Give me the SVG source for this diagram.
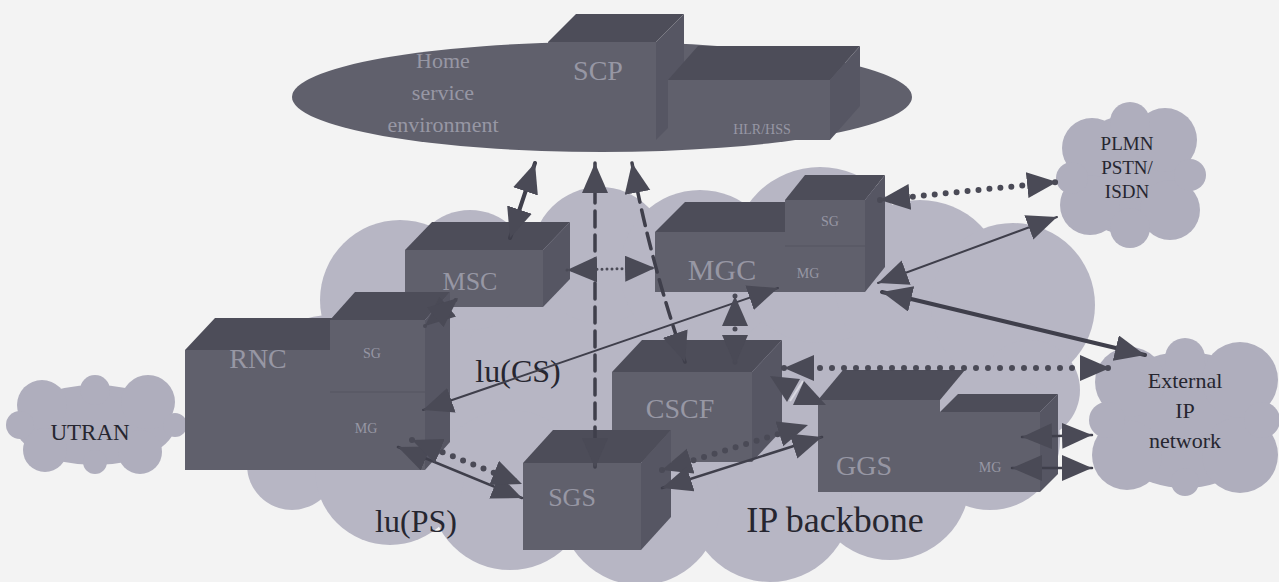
<svg xmlns="http://www.w3.org/2000/svg" width="1279" height="582" viewBox="0 0 1279 582">
<defs>
<style>
.cloud{fill:#b7b6c4}
.sc{fill:#afaebd}
.fr{fill:#60606c}
.tp{fill:#4d4d59}
.rt{fill:#565663}
.bl{font-family:"Liberation Serif",serif;fill:#9797a4;text-anchor:middle}
.dk{font-family:"Liberation Serif",serif;fill:#262630;text-anchor:middle}
.ln{fill:none;stroke:#3f3f4b;stroke-linecap:round}
.dot{fill:none;stroke:#4a4a56;stroke-linecap:round}
</style>
<marker id="ah" markerUnits="userSpaceOnUse" markerWidth="32" markerHeight="28" refX="30" refY="13" orient="auto-start-reverse" viewBox="0 0 32 28">
<path d="M0,0 L30,13 L0,26 Z" fill="#4a4a56"/>
</marker>
</defs>
<rect width="1279" height="582" fill="#f3f3f3"/>

<g id="ip-backbone">
<g class="cloud">
<ellipse cx="680" cy="380" rx="330" ry="150"/>
<circle cx="330" cy="400" r="85"/>
<circle cx="292" cy="465" r="45"/>
<circle cx="400" cy="300" r="80"/>
<circle cx="470" cy="270" r="60"/>
<circle cx="600" cy="255" r="68"/>
<circle cx="700" cy="270" r="80"/>
<circle cx="820" cy="255" r="88"/>
<circle cx="920" cy="285" r="85"/>
<circle cx="1013" cy="305" r="82"/>
<circle cx="1030" cy="390" r="50"/>
<circle cx="990" cy="440" r="70"/>
<circle cx="890" cy="480" r="80"/>
<circle cx="770" cy="500" r="82"/>
<circle cx="640" cy="505" r="80"/>
<circle cx="510" cy="490" r="80"/>
<circle cx="390" cy="470" r="75"/>
</g>
<text class="dk" x="835" y="532" font-size="36">IP backbone</text>
</g>

<g id="plmn">
<g class="sc">
<circle cx="1130" cy="175" r="60"/>
<circle cx="1092" cy="148" r="30"/>
<circle cx="1165" cy="140" r="32"/>
<circle cx="1090" cy="205" r="30"/>
<circle cx="1170" cy="210" r="30"/>
<circle cx="1130" cy="122" r="20"/>
<circle cx="1130" cy="228" r="20"/>
<circle cx="1072" cy="178" r="16"/>
<circle cx="1190" cy="175" r="16"/>
</g>
<text class="dk" x="1127" y="150" font-size="19">PLMN</text>
<text class="dk" x="1127" y="174" font-size="19">PSTN/</text>
<text class="dk" x="1127" y="198" font-size="19">ISDN</text>
</g>

<g id="external-ip">
<g class="sc">
<ellipse cx="1185" cy="420" rx="85" ry="68"/>
<circle cx="1130" cy="382" r="35"/>
<circle cx="1240" cy="380" r="38"/>
<circle cx="1127" cy="455" r="35"/>
<circle cx="1240" cy="455" r="38"/>
<circle cx="1185" cy="358" r="20"/>
<circle cx="1185" cy="482" r="14"/>
<circle cx="1107" cy="420" r="18"/>
<circle cx="1262" cy="420" r="18"/>
</g>
<text class="dk" x="1185" y="388" font-size="22">External</text>
<text class="dk" x="1185" y="418" font-size="22">IP</text>
<text class="dk" x="1185" y="448" font-size="22">network</text>
</g>

<g id="utran">
<g class="sc">
<ellipse cx="95" cy="425" rx="80" ry="40"/>
<circle cx="42" cy="405" r="25"/>
<circle cx="148" cy="402" r="27"/>
<circle cx="45" cy="450" r="22"/>
<circle cx="140" cy="452" r="22"/>
<circle cx="95" cy="390" r="15"/>
<circle cx="95" cy="462" r="12"/>
<circle cx="20" cy="425" r="14"/>
<circle cx="175" cy="425" r="12"/>
</g>
<text class="dk" x="90" y="440" font-size="23">UTRAN</text>
</g>

<g id="home-service-environment">
<ellipse cx="602" cy="97" rx="310" ry="55" fill="#60606c"/>
<text class="bl" x="443" y="68" font-size="22">Home</text>
<text class="bl" x="443" y="100" font-size="22">service</text>
<text class="bl" x="443" y="132" font-size="22">environment</text>
</g>

<g id="scp">
<polygon class="fr" points="548,42 656,42 656,140 548,140"/>
<polygon class="tp" points="548,42 576,14 684,14 656,42"/>
<polygon class="rt" points="656,42 684,14 684,112 656,140"/>
<text class="bl" x="598" y="80" font-size="28">SCP</text>
</g>

<g id="hlr-hss">
<polygon class="fr" points="668,80 830,80 830,140 668,140"/>
<polygon class="tp" points="668,80 698,46 860,46 830,80"/>
<polygon class="rt" points="830,80 860,46 860,106 830,140"/>
<text class="bl" x="762" y="134" font-size="14">HLR/HSS</text>
</g>

<g id="msc">
<polygon class="fr" points="405,250 543,250 543,307 405,307"/>
<polygon class="tp" points="405,250 432,222 570,222 543,250"/>
<polygon class="rt" points="543,250 570,222 570,279 543,307"/>
<text class="bl" x="470" y="290" font-size="26">MSC</text>
</g>

<g id="mgc">
<polygon class="fr" points="655,232 785,232 785,292 655,292"/>
<polygon class="tp" points="655,232 685,202 815,202 785,232"/>
<polygon class="fr" points="785,200 865,200 865,292 785,292"/>
<polygon class="tp" points="785,200 805,175 885,175 865,200"/>
<polygon class="rt" points="865,200 885,175 885,267 865,292"/>
<line x1="785" y1="246" x2="865" y2="246" stroke="#555561" stroke-width="1"/>
<text class="bl" x="722" y="280" font-size="30">MGC</text>
<text class="bl" x="830" y="226" font-size="14">SG</text>
<text class="bl" x="808" y="278" font-size="14">MG</text>
</g>

<g id="rnc">
<polygon class="fr" points="185,350 335,350 335,470 185,470"/>
<polygon class="tp" points="185,350 215,318 365,318 335,350"/>
<polygon class="fr" points="330,320 425,320 425,470 330,470"/>
<polygon class="tp" points="330,320 355,292 450,292 425,320"/>
<polygon class="rt" points="425,320 450,292 450,442 425,470"/>
<line x1="330" y1="392" x2="425" y2="392" stroke="#555561" stroke-width="1"/>
<text class="bl" x="258" y="368" font-size="28">RNC</text>
<text class="bl" x="372" y="358" font-size="14">SG</text>
<text class="bl" x="366" y="433" font-size="14">MG</text>
</g>

<g id="cscf">
<polygon class="fr" points="612,372 752,372 752,462 612,462"/>
<polygon class="tp" points="612,372 642,340 782,340 752,372"/>
<polygon class="rt" points="752,372 782,340 782,430 752,462"/>
<text class="bl" x="680" y="418" font-size="28">CSCF</text>
</g>

<g id="sgs">
<polygon class="fr" points="523,463 641,463 641,550 523,550"/>
<polygon class="tp" points="523,463 553,430 671,430 641,463"/>
<polygon class="rt" points="641,463 671,430 671,517 641,550"/>
<text class="bl" x="572" y="506" font-size="26">SGS</text>
</g>

<g id="ggs">
<polygon class="fr" points="818,400 940,400 940,492 818,492"/>
<polygon class="tp" points="818,400 843,370 965,370 940,400"/>
<polygon class="fr" points="940,412 1040,412 1040,492 940,492"/>
<polygon class="tp" points="940,412 958,394 1058,394 1040,412"/>
<polygon class="rt" points="1040,412 1058,394 1058,474 1040,492"/>
<text class="bl" x="864" y="475" font-size="28">GGS</text>
<text class="bl" x="990" y="472" font-size="14">MG</text>
</g>

<g id="labels">
<text class="dk" x="518" y="382" font-size="32">lu(CS)</text>
<text class="dk" x="416" y="532" font-size="32">lu(PS)</text>
</g>

<g id="connectors">
<line class="ln" x1="510" y1="238" x2="535" y2="163" stroke-width="4" marker-start="url(#ah)" marker-end="url(#ah)"/>
<line class="ln" x1="595" y1="163" x2="595" y2="468" stroke-width="3.5" stroke-dasharray="16 8" stroke-linecap="butt" marker-start="url(#ah)" marker-end="url(#ah)"/>
<path class="ln" d="M632,163 Q650,260 685,362" stroke-width="3.5" stroke-dasharray="16 8" stroke-linecap="butt" marker-start="url(#ah)" marker-end="url(#ah)"/>
<line class="dot" x1="567" y1="270" x2="655" y2="268" stroke-width="3" stroke-dasharray="0 5" marker-start="url(#ah)" marker-end="url(#ah)"/>
<line class="dot" x1="880" y1="200" x2="1057" y2="182" stroke-width="6" stroke-dasharray="0 11" marker-start="url(#ah)" marker-end="url(#ah)"/>
<line class="ln" x1="878" y1="283" x2="1057" y2="217" stroke-width="2" marker-start="url(#ah)" marker-end="url(#ah)"/>
<line class="ln" x1="882" y1="292" x2="1145" y2="355" stroke-width="4" marker-start="url(#ah)" marker-end="url(#ah)"/>
<line class="ln" x1="423" y1="410" x2="778" y2="288" stroke-width="2" marker-start="url(#ah)" marker-end="url(#ah)"/>
<line class="dot" x1="735" y1="296" x2="735" y2="365" stroke-width="5" stroke-dasharray="0 11" marker-start="url(#ah)" marker-end="url(#ah)"/>
<line class="dot" x1="425" y1="326" x2="458" y2="298" stroke-width="4" stroke-dasharray="0 8" marker-start="url(#ah)" marker-end="url(#ah)"/>
<line class="ln" x1="398" y1="447" x2="522" y2="498" stroke-width="2.5" marker-start="url(#ah)" marker-end="url(#ah)"/>
<line class="dot" x1="412" y1="440" x2="522" y2="484" stroke-width="6" stroke-dasharray="0 11" marker-start="url(#ah)" marker-end="url(#ah)"/>
<line class="dot" x1="662" y1="470" x2="808" y2="425" stroke-width="6" stroke-dasharray="0 11" marker-start="url(#ah)" marker-end="url(#ah)"/>
<line class="ln" x1="662" y1="488" x2="822" y2="437" stroke-width="2.5" marker-start="url(#ah)" marker-end="url(#ah)"/>
<line class="dot" x1="784" y1="368" x2="1110" y2="368" stroke-width="6" stroke-dasharray="0 12" marker-start="url(#ah)" marker-end="url(#ah)"/>
<line x1="803" y1="381" x2="790" y2="401" stroke="#d8d8e0" stroke-width="2"/>
<polygon points="770,376 800,379 787,402" fill="#4a4a56"/>
<polygon points="804,381 826,405 793,405" fill="#4a4a56"/>
<line class="ln" x1="1022" y1="437" x2="1092" y2="435" stroke-width="2.5" marker-start="url(#ah)" marker-end="url(#ah)"/>
<line class="ln" x1="1012" y1="468" x2="1092" y2="468" stroke-width="2.5" marker-start="url(#ah)" marker-end="url(#ah)"/>
</g>
</svg>
